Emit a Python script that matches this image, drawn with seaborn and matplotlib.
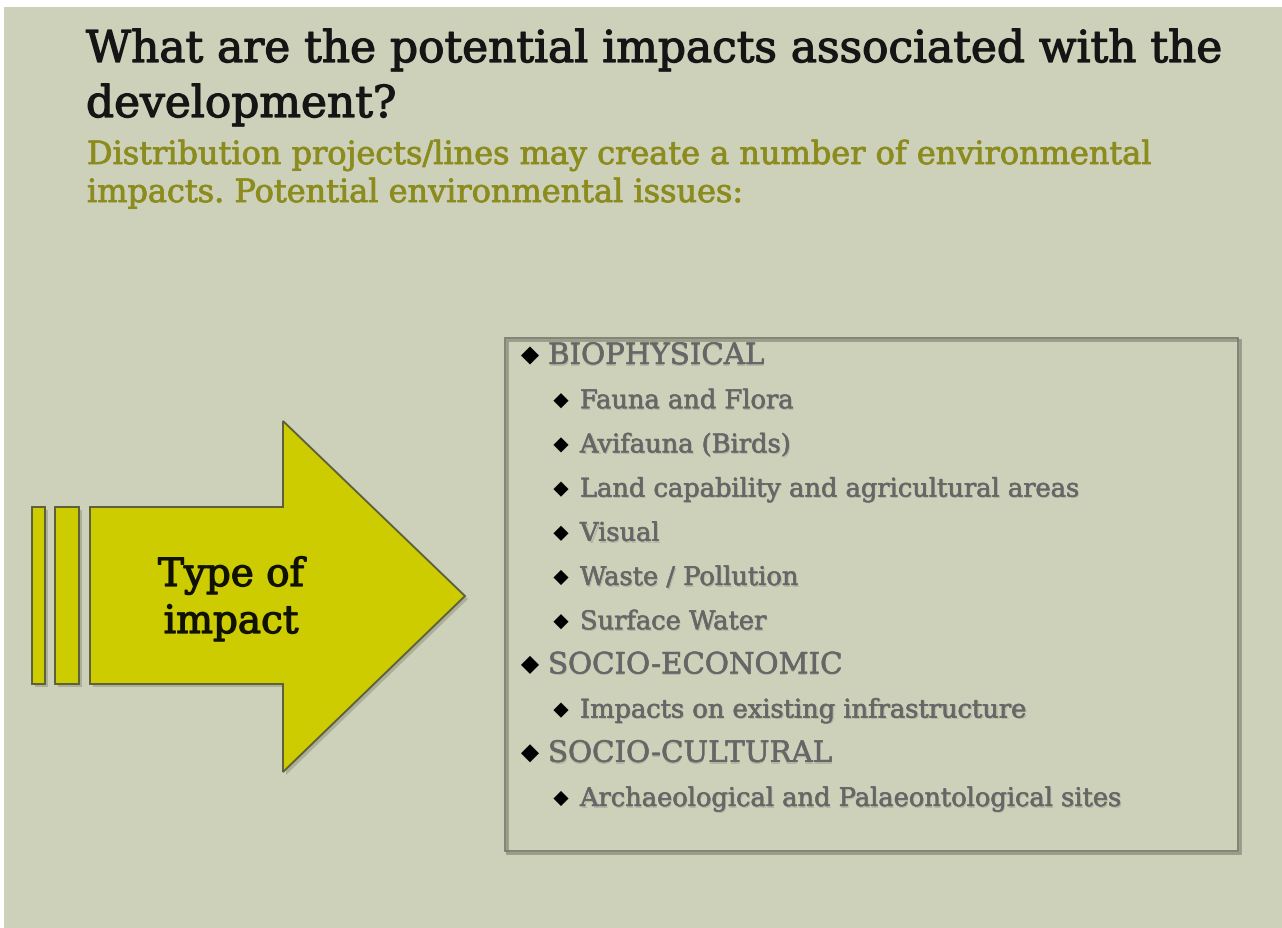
import numpy as np
import pandas as pd
import seaborn as sns
import matplotlib.pyplot as plt
import matplotlib.patheffects as pe
from matplotlib.patches import Rectangle, Polygon

# Slide content ---------------------------------------------------------------

title_lines = ["What are the potential impacts associated with the", "development?"]
subtitle_lines = ["Distribution projects/lines may create a number of environmental",
                  "impacts. Potential environmental issues:"]
arrow_label = ["Type of", "impact"]

items = ["BIOPHYSICAL", "Fauna and Flora", "Avifauna (Birds)",
         "Land capability and agricultural areas", "Visual", "Waste / Pollution",
         "Surface Water", "SOCIO-ECONOMIC", "Impacts on existing infrastructure",
         "SOCIO-CULTURAL", "Archaeological and Palaeontological sites"]
levels = [1, 2, 2, 2, 2, 2, 2, 1, 2, 1, 2]

# Theme -----------------------------------------------------------------------

sns.set_theme(style = "white")
plt.rcParams["font.family"] = ["DejaVu Serif"]

bg = "#cdd1ba"
yellow = "#cccc00"
olive = "#8c8c1e"

fig = plt.figure(figsize = (12.82, 9.29), dpi = 100, facecolor = "white")
ax = fig.add_axes([0, 0, 1, 1])
ax.set_xlim(0, 1282)
ax.set_ylim(929, 0)
ax.axis("off")

ax.add_patch(Rectangle((4, 8), 1278, 921, facecolor = bg, edgecolor = "none", zorder = 0))

# slightly heavier strokes, closer to the slab serif of the slide
heavy = [pe.withStroke(linewidth = 0.9, foreground = "#151515")]
heavy_olive = [pe.withStroke(linewidth = 0.6, foreground = olive)]

# Title -----------------------------------------------------------------------

ax.text(86, 63, title_lines[0], fontsize = 31.6, color = "#151515", va = "baseline", ha = "left",
        path_effects = heavy)
ax.text(86, 118, title_lines[1], fontsize = 31.6, color = "#151515", va = "baseline", ha = "left",
        path_effects = heavy)
ax.text(87, 165, subtitle_lines[0], fontsize = 23, color = olive, va = "baseline", ha = "left",
        path_effects = heavy_olive)
ax.text(87, 203, subtitle_lines[1], fontsize = 23, color = olive, va = "baseline", ha = "left",
        path_effects = heavy_olive)

# Arrow -----------------------------------------------------------------------

def shape(pts, z):
    pts = np.array(pts, dtype = float)
    ax.add_patch(Polygon(pts + [3, 3], closed = True, facecolor = "#8d8f78",
                         edgecolor = "none", alpha = 0.5, zorder = z))
    ax.add_patch(Polygon(pts, closed = True, facecolor = yellow,
                         edgecolor = "#5d5e3a", lw = 1.4, zorder = z + 0.1))

shape([(32, 508), (45, 508), (45, 685), (32, 685)], 2)
shape([(55, 508), (79, 508), (79, 685), (55, 685)], 2)
shape([(90, 508), (283, 508), (283, 422), (465, 597), (283, 773), (283, 685), (90, 685)], 2)

label_fx = [pe.withStroke(linewidth = 0.9, foreground = "#111100")]
ax.text(231, 587, arrow_label[0], fontsize = 28, color = "#111100", ha = "center", va = "baseline",
        zorder = 5, path_effects = label_fx)
ax.text(231, 634, arrow_label[1], fontsize = 28, color = "#111100", ha = "center", va = "baseline",
        zorder = 5, path_effects = label_fx)

# List box --------------------------------------------------------------------

ax.add_patch(Rectangle((507, 341), 733, 513, facecolor = "none", edgecolor = "#999b88",
                       lw = 2.0, zorder = 2))
ax.add_patch(Rectangle((505, 339), 733, 513, facecolor = "none", edgecolor = "#75776a",
                       lw = 1.2, zorder = 3))

rows = pd.DataFrame({"item": items, "level": levels})
rows["baseline"] = 365 + np.arange(len(rows)) * 44.2
rows["bx"] = np.where(rows["level"] == 1, 530, 561)
rows["tx"] = np.where(rows["level"] == 1, 548, 580)
rows["by"] = rows["baseline"] - np.where(rows["level"] == 1, 8.5, 7.5)

for lvl, size, fs in [(1, 85, 21.1), (2, 60, 18.5)]:
    sub = rows[rows["level"] == lvl]
    sns.scatterplot(data = sub, x = "bx", y = "by", marker = "D", s = size, color = "black",
                    edgecolor = "none", ax = ax, zorder = 4, legend = False)
    for _, r in sub.iterrows():
        ax.text(r["tx"] + 0.8, r["baseline"] + 0.8, r["item"], fontsize = fs, color = "#b4b6a4",
                va = "baseline", ha = "left", zorder = 4)
        ax.text(r["tx"], r["baseline"], r["item"], fontsize = fs, color = "#666666",
                va = "baseline", ha = "left", zorder = 5,
                path_effects = [pe.withStroke(linewidth = 0.4, foreground = "#666666")])

ax.set_xlim(0, 1282)
ax.set_ylim(929, 0)
ax.axis("off")

fig.savefig("out.png", dpi = 100, facecolor = "white")
